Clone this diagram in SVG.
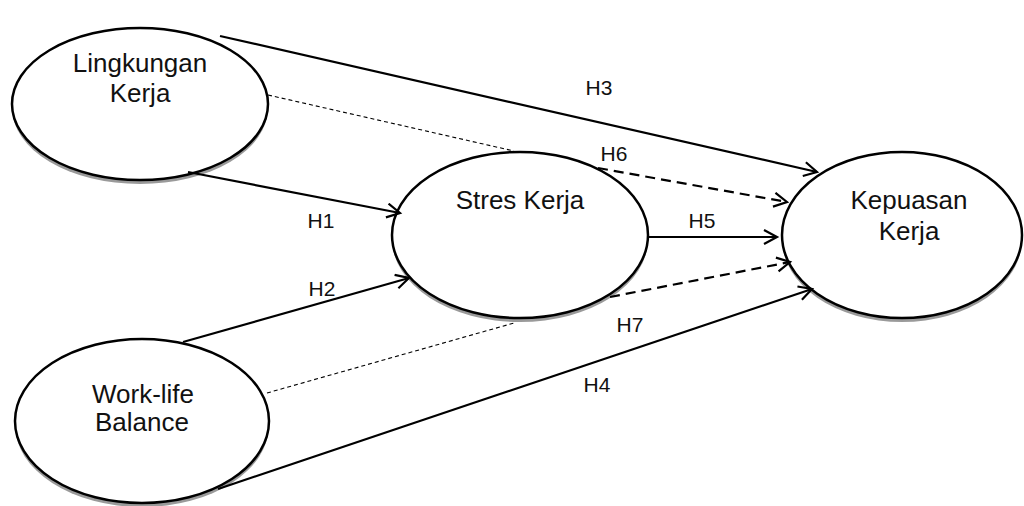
<svg xmlns="http://www.w3.org/2000/svg" width="1024" height="506" viewBox="0 0 1024 506">
  <style>
    .shadow { fill: #9a9a9a; stroke: none; }
    .node { fill: #ffffff; stroke: #000000; stroke-width: 2.5; }
    .label { font-family: "Liberation Sans", Arial, sans-serif; font-size: 26px; fill: #111111; text-anchor: middle; }
    .hyp { font-family: "Liberation Sans", Arial, sans-serif; font-size: 21px; fill: #111111; text-anchor: middle; }
    .solid { stroke: #000000; stroke-width: 2.2; fill: none; }
    .dashed { stroke: #000000; stroke-width: 2.2; fill: none; stroke-dasharray: 10 6; }
    .dotted { stroke: #000000; stroke-width: 1.1; fill: none; stroke-dasharray: 4 3; }
  </style>
  <defs>
    <marker id="arrow" markerUnits="userSpaceOnUse" markerWidth="18" markerHeight="18" refX="14" refY="8" orient="auto">
      <path d="M1,1 L14,8 L1,15" fill="none" stroke="#000000" stroke-width="2.2"/>
    </marker>
  </defs>
  <rect width="1024" height="506" fill="#ffffff"/>

  <g id="lingkungan-kerja">
    <ellipse class="shadow" cx="140" cy="108" rx="128" ry="76"/>
    <ellipse class="node" cx="140" cy="104" rx="128" ry="76"/>
    <text class="label" x="140" y="72">Lingkungan</text>
    <text class="label" x="140" y="102">Kerja</text>
  </g>

  <g id="stres-kerja">
    <ellipse class="shadow" cx="520" cy="239" rx="128" ry="83"/>
    <ellipse class="node" cx="520" cy="235" rx="128" ry="83"/>
    <text class="label" x="520" y="209">Stres Kerja</text>
  </g>

  <g id="kepuasan-kerja">
    <ellipse class="shadow" cx="902" cy="239" rx="120" ry="83"/>
    <ellipse class="node" cx="902" cy="235" rx="120" ry="83"/>
    <text class="label" x="909" y="209">Kepuasan</text>
    <text class="label" x="909" y="240">Kerja</text>
  </g>

  <g id="work-life-balance">
    <ellipse class="shadow" cx="142" cy="425" rx="127" ry="82"/>
    <ellipse class="node" cx="142" cy="421" rx="127" ry="82"/>
    <text class="label" x="143" y="403">Work-life</text>
    <text class="label" x="142" y="431">Balance</text>
  </g>

  <g id="connectors">
    <!-- direct paths -->
    <line class="solid" x1="220" y1="36" x2="817" y2="172" marker-end="url(#arrow)"/>
    <line class="solid" x1="188" y1="172" x2="400" y2="213" marker-end="url(#arrow)"/>
    <line class="solid" x1="183" y1="342" x2="409" y2="278" marker-end="url(#arrow)"/>
    <line class="solid" x1="648" y1="237" x2="777" y2="237" marker-end="url(#arrow)"/>
    <line class="solid" x1="218" y1="489" x2="812" y2="289" marker-end="url(#arrow)"/>
    <!-- mediated paths -->
    <line class="dotted" x1="268" y1="95" x2="514" y2="151"/>
    <line class="dotted" x1="267" y1="393" x2="514" y2="323"/>
    <line class="dashed" x1="598" y1="168" x2="787" y2="202" marker-end="url(#arrow)"/>
    <line class="dashed" x1="610" y1="297" x2="790" y2="262" marker-end="url(#arrow)"/>
    <!-- hypothesis labels -->
    <text class="hyp" x="599" y="95">H3</text>
    <text class="hyp" x="614" y="161">H6</text>
    <text class="hyp" x="321" y="228">H1</text>
    <text class="hyp" x="702" y="228">H5</text>
    <text class="hyp" x="322" y="296">H2</text>
    <text class="hyp" x="630" y="332">H7</text>
    <text class="hyp" x="597" y="392">H4</text>
  </g>
</svg>
